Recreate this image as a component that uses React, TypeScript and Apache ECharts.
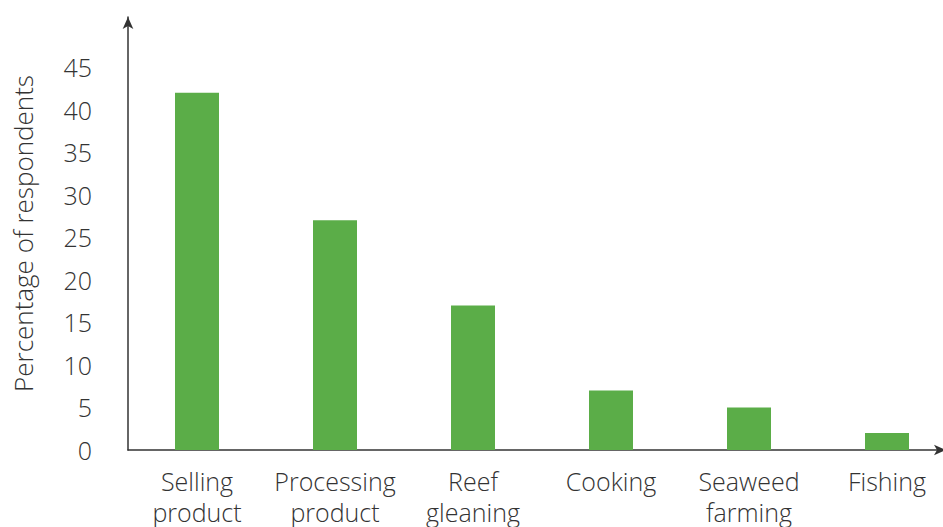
import React, { useEffect, useRef } from "react";
import * as echarts from "echarts";

const categories = [
  "Selling\nproduct",
  "Processing\nproduct",
  "Reef\ngleaning",
  "Cooking",
  "Seaweed\nfarming",
  "Fishing",
];
const percentages = [42, 27, 17, 7, 5, 2];
const yTickMax = 45;

const FONT = "'Open Sans', 'Noto Sans', sans-serif";

export default function App() {
  const ref = useRef<HTMLDivElement>(null);
  useEffect(() => {
    document.body.style.margin = "0";
    const chart = echarts.init(ref.current!, null, { renderer: "svg" });
    chart.setOption({
      animation: false,
      grid: {
        left: 128,
        top: 17,
        width: 828,
        bottom: 77,
        containLabel: false,
        outerBoundsMode: "none",
      },
      xAxis: {
        type: "category",
        data: categories,
        axisLine: {
          lineStyle: { color: "#333", width: 1.5 },
          symbol: ["none", "arrow"],
          symbolSize: [8, 12],
          symbolOffset: [0, -10],
        },
        axisTick: { show: false },
        axisLabel: {
          color: "#333",
          fontFamily: FONT,
          fontWeight: 300,
          fontSize: 25,
          lineHeight: 31,
          margin: 15,
          interval: 0,
        },
      },
      yAxis: {
        type: "value",
        min: 0,
        max: 50.9,
        interval: 5,
        name: "Percentage of respondents",
        nameLocation: "middle",
        nameGap: 92,
        nameTextStyle: {
          color: "#333",
          fontFamily: FONT,
          fontWeight: 300,
          fontSize: 26,
        },
        axisLine: {
          show: true,
          lineStyle: { color: "#333", width: 1.5 },
          symbol: ["none", "arrow"],
          symbolSize: [8, 12],
        },
        axisTick: { show: false },
        splitLine: { show: false },
        axisLabel: {
          color: "#333",
          fontFamily: FONT,
          fontWeight: 300,
          fontSize: 25,
          margin: 36,
          formatter: (v: number) => (v <= yTickMax ? String(v) : ""),
        },
      },
      series: [
        {
          type: "bar",
          data: percentages,
          barWidth: 44,
          itemStyle: { color: "#5BAD48" },
        },
      ],
    });
    return () => chart.dispose();
  }, []);
  return <div ref={ref} style={{ width: 943, height: 527 }} />;
}
